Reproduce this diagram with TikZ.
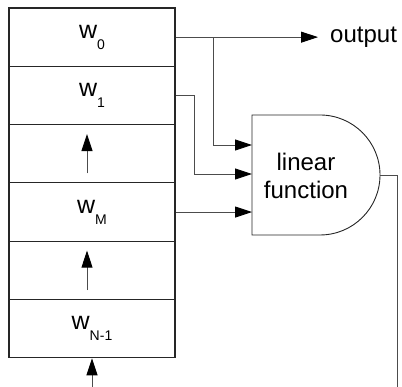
\documentclass[tikz,border=0pt]{standalone}
\usepackage{fontspec}
\setmainfont{Liberation Sans}
\usetikzlibrary{arrows.meta}
\tikzstyle{cell}=[draw=black!85,line width=1.1pt,minimum width=166pt,minimum height=58.3pt,inner sep=0pt,font=\fontsize{25}{25}\selectfont]
\tikzstyle{wire}=[draw=black!70,line width=0.9pt]
\tikzstyle{feed}=[wire,-{Triangle[length=17pt,width=11pt,black]}]
\tikzstyle{gate}=[draw=black!85,line width=0.9pt]
\tikzstyle{label}=[inner sep=0pt,font=\fontsize{24}{28}\selectfont]
\newcommand{\wsub}[1]{w\raisebox{-11pt}{\fontsize{14}{14}\selectfont #1}}

\begin{document}
\begin{tikzpicture}[x=1pt,y=1pt]
    \useasboundingbox (0,0) rectangle (402,387);
    % shift register
    \node[cell] (r0) at (92,349.85) {\wsub{0}};
    \node[cell] (r1) at (92,291.55) {\wsub{1}};
    \node[cell] (r2) at (92,233.25) {};
    \node[cell] (r3) at (92,174.95) {\wsub{M}};
    \node[cell] (r4) at (92,116.65) {};
    \node[cell] (r5) at (92,58.35)  {\wsub{N-1}};
    \coordinate (s2a) at ([xshift=-5pt,yshift=10pt]r2.south);
    \coordinate (s2b) at ([xshift=-5pt,yshift=-10pt]r2.north);
    \coordinate (s4a) at ([xshift=-5pt,yshift=10pt]r4.south);
    \coordinate (s4b) at ([xshift=-5pt,yshift=-10pt]r4.north);
    \draw[feed] (s2a) -- (s2b);
    \draw[feed] (s4a) -- (s4b);
    % linear function block
    \draw[gate] (252,152) -- (252,272) -- (320,272) arc (90:-90:60) -- cycle;
    \node[label,align=center] (lf) at (306,211) {linear\\function};
    \coordinate (g1) at (252,242);
    \coordinate (g2) at (252,213);
    \coordinate (g3) at (252,174.95);
    \coordinate (gout) at (380,212);
    % taps
    \node[label,anchor=west] (out) at (330,349.85) {output};
    \draw[feed,shorten >=12pt] (r0.east) -- (out.west);
    \coordinate (b0) at (213,349.85);
    \draw[feed] (b0) |- (g1);
    \draw[feed] (r1.east) -| ([xshift=-58pt]g2) -- (g2);
    \draw[feed] (r3.east) -- (g3);
    % feedback
    \coordinate (fb) at (397,0);
    \coordinate (fin) at (92,0);
    \draw[wire] (gout) -| (fb);
    \draw[feed] (fin) -- (r5.south);
\end{tikzpicture}
\end{document}
